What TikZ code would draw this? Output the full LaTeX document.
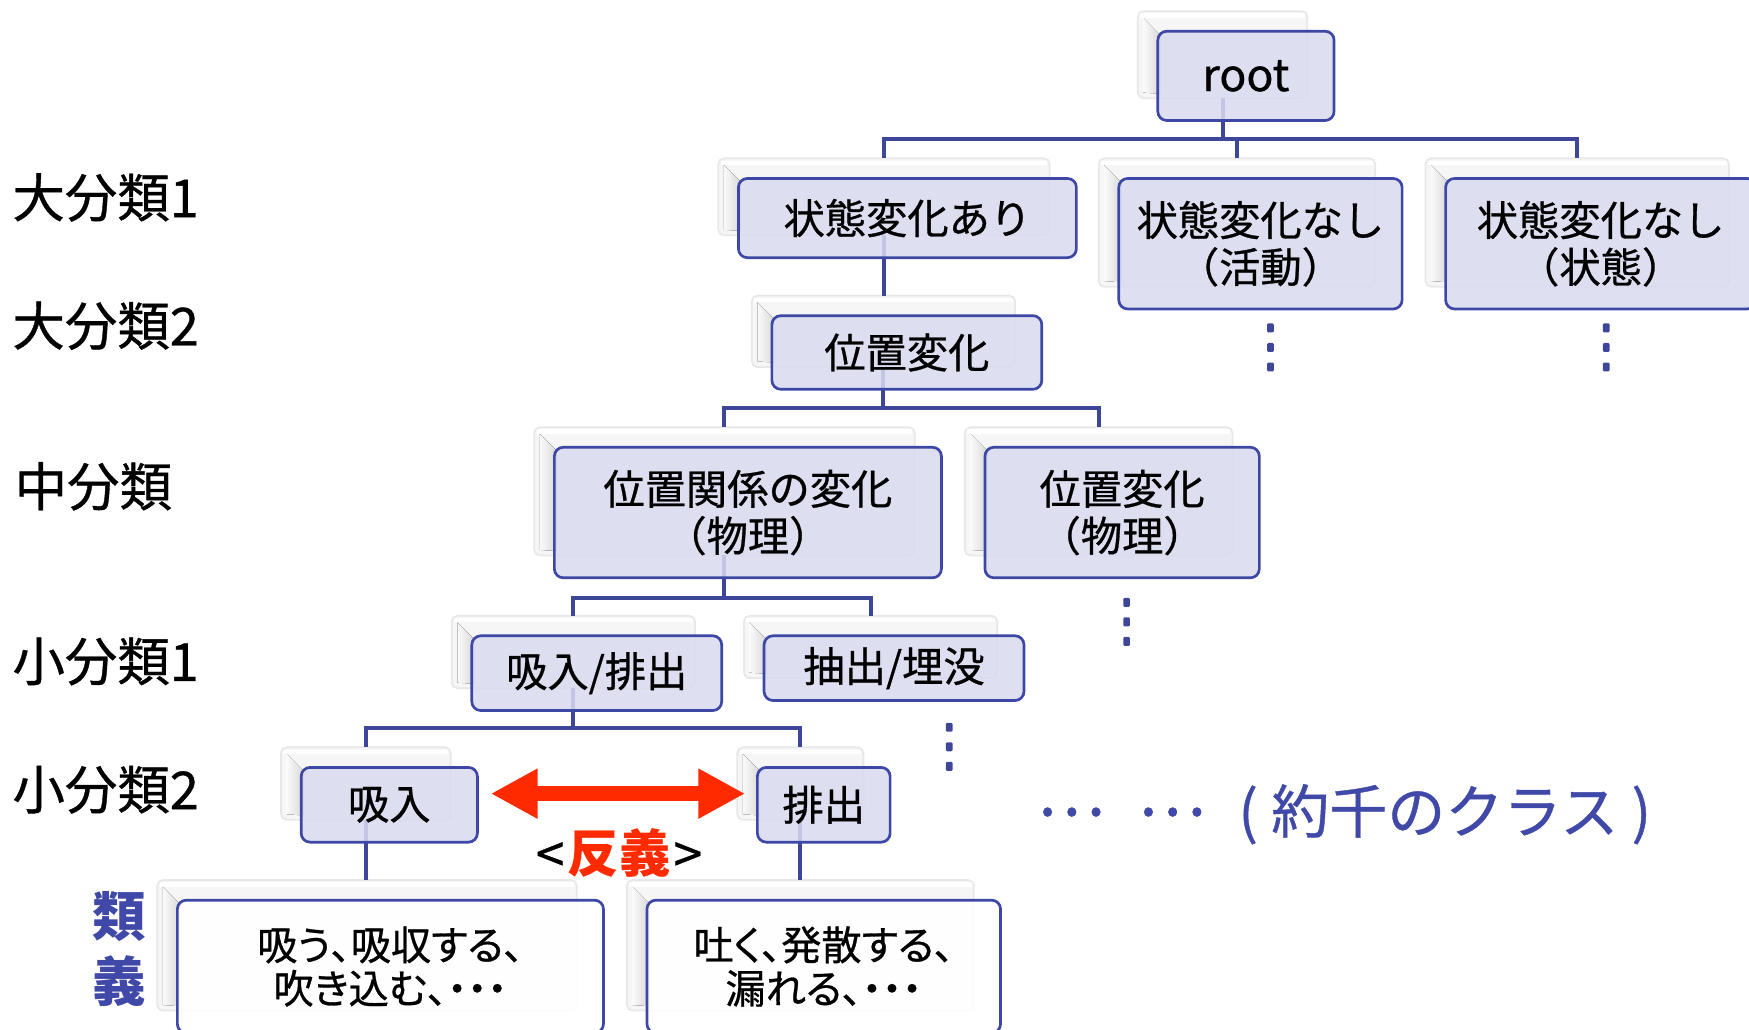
\documentclass[tikz,border=0pt]{standalone}
\usepackage{fontspec}
\setmainfont{Noto Sans CJK JP}[UprightFeatures={FakeBold=0.7}]
\usetikzlibrary{arrows.meta}
\definecolor{boxfill}{HTML}{D9DBEF}
\definecolor{boxline}{HTML}{3D47A6}
\definecolor{connc}{HTML}{3E4699}
\definecolor{bluetext}{HTML}{4049A8}
\definecolor{redar}{HTML}{FF2A00}
\tikzset{
  ghostbox/.style={draw=gray!18, line width=1.6pt, fill=gray!7, rounded corners=5pt, inner sep=0pt, outer sep=0pt},
  bevel/.style={left color=gray!4, right color=gray!30},
  frontbox/.style={draw=boxline, line width=2.4pt, fill=boxfill, fill opacity=0.86, text opacity=1, rounded corners=8pt, inner sep=0pt, outer sep=0pt, align=center, text=black, font=\fontsize{37}{42}\selectfont},
  synbox/.style={fill=white, fill opacity=0.9, font=\fontsize{36}{39}\selectfont\addfontfeature{RawFeature=+palt}},
  conn/.style={draw=connc, line width=3.6pt},
  vdot/.style={fill=connc, rounded corners=1pt},
  lvl/.style={anchor=west, inner sep=0pt, font=\fontsize{47}{50}\selectfont},
}
\newcommand\mkghost[5]{%
  \pgfmathsetmacro\gx{(#2+#4)/2-21}%
  \pgfmathsetmacro\gy{(#3+#5)/2-19}%
  \pgfmathsetmacro\gw{#4-#2-6}%
  \pgfmathsetmacro\gh{#5-#3-2}%
  \node[ghostbox, minimum width=\gw pt, minimum height=\gh pt] (g#1) at (\gx,\gy) {};
  \fill[white] ([shift={(2,2)}]g#1.north west) rectangle ([shift={(-2,6)}]g#1.north east);
  \fill[bevel] ([shift={(5,6)}]g#1.north west) -- ([shift={(20,21)}]g#1.north west) -- ([shift={(20,-4)}]g#1.south west) -- ([shift={(5,-5)}]g#1.south west) -- cycle;
}
\newcommand\mkfront[7]{%
  \pgfmathsetmacro\fx{(#2+#4)/2}%
  \pgfmathsetmacro\fy{(#3+#5)/2}%
  \pgfmathsetmacro\fw{#4-#2}%
  \pgfmathsetmacro\fh{#5-#3}%
  \node[frontbox, #6, minimum width=\fw pt, minimum height=\fh pt] (#1) at (\fx,\fy) {#7};
}
\begin{document}
\begin{tikzpicture}[x=1pt,y=-1pt]
\useasboundingbox (0,0) rectangle (1568,923);
\clip (0,0) rectangle (1568,923);

% ghost boxes
\mkghost{root}{1038}{28}{1196}{108}
\mkghost{s1}{662}{160}{965}{231}
\mkghost{s2}{1003}{160}{1257}{277}
\mkghost{s3}{1296}{160}{1574}{277}
\mkghost{pos}{692}{283}{934}{349}
\mkghost{m1}{497}{401}{844}{518}
\mkghost{m2}{883}{401}{1129}{518}
\mkghost{k1}{423}{570}{647}{637}
\mkghost{k2}{685}{570}{918}{628}
\mkghost{kyu}{270}{688}{428}{755}
\mkghost{hai}{679}{688}{798}{755}
\mkghost{syn1}{159}{807}{541}{926}
\mkghost{syn2}{580}{807}{897}{926}

% connectors
\coordinate (bar1) at (0,125);
\coordinate (bar2) at (0,366);
\coordinate (bar3) at (0,536);
\coordinate (bar4) at (0,653);
\draw[conn] (groot.south) -- (groot.south |- bar1) -| (gs1.north);
\draw[conn] (groot.south |- bar1) -| (gs2.north);
\draw[conn] (groot.south |- bar1) -| (gs3.north);
\draw[conn] (gs1.south) -- (gs1.south |- gpos.north);
\draw[conn] (gpos.south) -- (gpos.south |- bar2) -| (gm1.north);
\draw[conn] (gpos.south |- bar2) -| (gm2.north);
\draw[conn] (gm1.south) -- (gm1.south |- bar3) -| (gk1.north);
\draw[conn] (gm1.south |- bar3) -| (gk2.north);
\draw[conn] (gk1.south) -- (gk1.south |- bar4) -| (gkyu.north);
\draw[conn] (gk1.south |- bar4) -| (ghai.north);
\draw[conn] (gkyu.south) -- (gkyu.south |- gsyn1.north);
\draw[conn] (ghai.south) -- (ghai.south |- gsyn2.north);

% front boxes
\mkfront{root}{1038}{28}{1196}{108}{font=\fontsize{40}{44}\selectfont}{root}
\mkfront{s1}{662}{160}{965}{231}{}{状態変化あり}
\mkfront{s2}{1003}{160}{1257}{277}{}{状態変化なし\\（活動）}
\mkfront{s3}{1296}{160}{1574}{277}{}{状態変化なし\\（状態）}
\mkfront{pos}{692}{283}{934}{349}{}{位置変化}
\mkfront{m1}{497}{401}{844}{518}{}{位置関係の変化\\（物理）}
\mkfront{m2}{883}{401}{1129}{518}{}{位置変化\\（物理）}
\mkfront{k1}{423}{570}{647}{637}{}{吸入/排出}
\mkfront{k2}{685}{570}{918}{628}{}{抽出/埋没}
\mkfront{kyu}{270}{688}{428}{755}{}{吸入}
\mkfront{hai}{679}{688}{798}{755}{}{排出}
\mkfront{syn1}{159}{807}{541}{926}{synbox}{吸う、吸収する、\\吹き込む、・・・}
\mkfront{syn2}{580}{807}{897}{926}{synbox}{吐く、発散する、\\漏れる、・・・}

% vertical ellipses
\foreach \x/\ya in {1139/294, 1440/294, 1010/540, 851/652}{
  \foreach \k in {0,1,2}{
    \pgfmathsetmacro\yy{\ya+17.5*\k}
    \fill[vdot] (\x-3,\yy-4) rectangle (\x+3,\yy+4);
  }
}

% antonym arrow
\draw[redar, line width=13pt, {Triangle[length=42pt,width=42pt]}-{Triangle[length=42pt,width=42pt]}, shorten <=12pt, shorten >=11pt] ([yshift=10pt]kyu.east) -- ([yshift=10pt]hai.west);
\node[inner sep=0pt, font=\fontsize{46}{50}\selectfont] (anto) at (555,765) {<\hspace{3pt}{\color{redar}\bfseries 反義}\hspace{3pt}>};

% level labels
\node[lvl] (L1) at (11,177) {大分類1};
\node[lvl] (L2) at (11,292) {大分類2};
\node[lvl] (L3) at (13,436) {中分類};
\node[lvl] (L4) at (11,593) {小分類1};
\node[lvl] (L5) at (11,708) {小分類2};
\node[inner sep=0pt, align=center, text=bluetext, font=\fontsize{48}{58}\selectfont\bfseries] (rui) at (107,851) {類\\義};

% class count
\node[anchor=west, inner sep=0pt, text=bluetext, font=\fontsize{58}{60}\selectfont] (ell) at (929,728) {…\hspace{29pt}…};
\node[anchor=west, inner sep=0pt, text=bluetext, font=\fontsize{52}{56}\selectfont] (cls) at (1110,730) {(\hspace{12pt}約千のクラス\hspace{12pt})};
\end{tikzpicture}
\end{document}
